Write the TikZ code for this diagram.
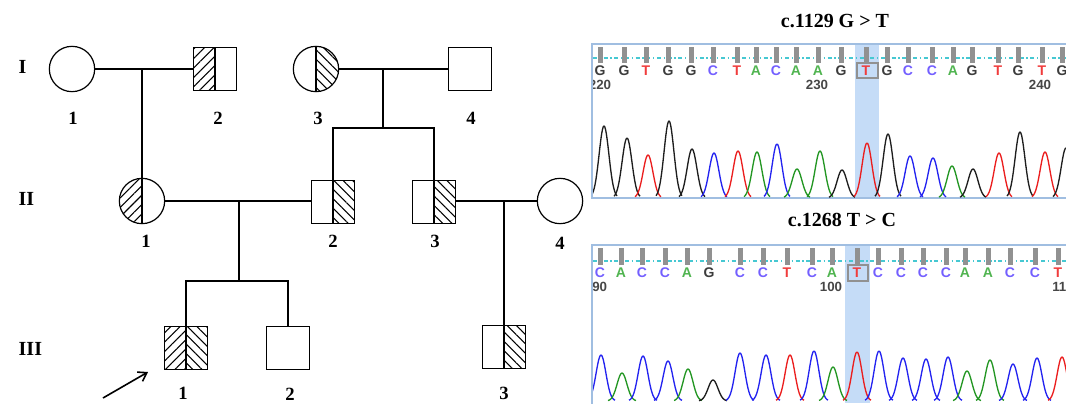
\documentclass[tikz,border=0pt]{standalone}
\usepackage{fontspec}
\setmainfont{Liberation Serif}
\setsansfont{Liberation Sans}
\usetikzlibrary{arrows.meta,patterns.meta}
\definecolor{seqband}{RGB}{197,220,247}
\definecolor{seqframe}{RGB}{160,190,225}
\definecolor{seqtick}{RGB}{145,145,145}
\definecolor{seqdash}{RGB}{70,200,210}
\definecolor{seqnum}{RGB}{70,70,70}
\definecolor{baseG}{RGB}{60,60,60}
\definecolor{baseT}{RGB}{240,60,60}
\definecolor{baseC}{RGB}{115,95,255}
\definecolor{baseA}{RGB}{80,180,80}
\definecolor{traceG}{RGB}{30,30,30}
\definecolor{traceT}{RGB}{235,30,30}
\definecolor{traceC}{RGB}{35,35,240}
\definecolor{traceA}{RGB}{35,150,35}

\begin{document}
\begin{tikzpicture}[x=0.75pt, y=-0.75pt,
    female/.style={circle, draw, line width=0.9pt, minimum size=34pt, inner sep=0pt},
    male/.style={rectangle, draw, line width=0.9pt, minimum size=32pt, inner sep=0pt},
    lefthalf/.style={path picture={
        \fill[pattern={Lines[angle=45, distance=5pt, line width=0.8pt]}]
            (path picture bounding box.south west) rectangle (path picture bounding box.north);
        \draw[line width=0.9pt] (path picture bounding box.north) -- (path picture bounding box.south);}},
    righthalf/.style={path picture={
        \fill[pattern={Lines[angle=-45, distance=5pt, line width=0.8pt]}]
            (path picture bounding box.south) rectangle (path picture bounding box.north east);
        \draw[line width=0.9pt] (path picture bounding box.north) -- (path picture bounding box.south);}},
    bothhalves/.style={path picture={
        \fill[pattern={Lines[angle=45, distance=5pt, line width=0.8pt]}]
            (path picture bounding box.south west) rectangle (path picture bounding box.north);
        \fill[pattern={Lines[angle=-45, distance=5pt, line width=0.8pt]}]
            (path picture bounding box.south) rectangle (path picture bounding box.north east);
        \draw[line width=0.9pt] (path picture bounding box.north) -- (path picture bounding box.south);}},
    link/.style={line width=0.9pt},
    gen/.style={font=\bfseries\fontsize{15}{15}\selectfont, anchor=west},
    num/.style={font=\bfseries\fontsize{14}{14}\selectfont},
    title/.style={font=\bfseries\fontsize{15}{15}\selectfont},
    base/.style={font=\sffamily\bfseries\fontsize{10.5}{10.5}\selectfont, inner sep=0pt},
    seqpos/.style={font=\sffamily\bfseries\fontsize{10}{10}\selectfont, text=seqnum, inner sep=0pt},
    trace/.style={line width=1pt, line join=round}
]
\useasboundingbox (0,0) rectangle (1066,403);

% generations
\node[gen] (gI) at (14,67) {I};
\node[gen] (gII) at (14,199) {II};
\node[gen] (gIII) at (14,349) {III};

% generation I
\node[female] (i1) at (72,69) {};
\node[male, lefthalf] (i2) at (215,69) {};
\node[female, righthalf] (i3) at (316,69) {};
\node[male] (i4) at (470,69) {};
\node[num] at (73,118) {1};
\node[num] at (218,118) {2};
\node[num] at (318,118) {3};
\node[num] at (471,118) {4};

% generation II
\node[female, lefthalf] (ii1) at (142,201) {};
\node[male, righthalf] (ii2) at (333,202) {};
\node[male, righthalf] (ii3) at (434,202) {};
\node[female] (ii4) at (560,201) {};
\node[num] at (146,241) {1};
\node[num] at (333,241) {2};
\node[num] at (435,241) {3};
\node[num] at (560,243) {4};

% generation III
\node[male, bothhalves] (iii1) at (186,348) {};
\node[male] (iii2) at (288,348) {};
\node[male, righthalf] (iii3) at (504,347) {};
\node[num] at (183,393) {1};
\node[num] at (290,394) {2};
\node[num] at (504,393) {3};

% couples and sibships
\coordinate (m1) at (142,69);
\coordinate (m2) at (383,69);
\coordinate (s2) at (383,128);
\coordinate (m3) at (239,201);
\coordinate (s3) at (239,281);
\coordinate (m4) at (504,201);
\draw[link] (i1) -- (i2);
\draw[link] (i3) -- (i4);
\draw[link] (m1) -- (ii1.north);
\draw[link] (m2) -- (s2);
\draw[link] (ii2.north) |- (s2) -| (ii3.north);
\draw[link] (ii1.east) -- (ii2.west |- ii1.east);
\draw[link] (ii3.east |- ii4.west) -- (ii4.west);
\draw[link] (m3) -- (s3);
\draw[link] (iii1.north) |- (s3) -| (iii2.north);
\draw[link] (m4) -- (iii3.north);

% proband
\coordinate (ptail) at (103,398);
\coordinate (phead) at (148,372);
\draw[link, line width=1.2pt, -{Straight Barb[length=6pt, width=8pt]}] (ptail) -- (phead);

% sequence c.1129
\node[title] (t1) at (835,21) {c.1129 G > T};
\fill[seqband] (855,44) rectangle (879,198);
\draw[seqframe, line width=1pt] (1070,44) -- (592,44) -- (592,198) -- (1070,198);
\draw[seqdash, line width=0.8pt, dash pattern=on 3pt off 2pt on 1pt off 2pt] (593,58) -- (1066,58);
\begin{scope}
\clip (593,44) rectangle (1066,197.5);
\foreach \px/\bs in {600/G,624/G,646/T,668/G,691/G,713/C,737/T,756/A,776/C,796/A,818/A,
    841/G,866/T,887/G,908/C,932/C,953/A,972/G,998/T,1018/G,1042/T,1062/G} {
  \fill[seqtick] (\px-2.5,47) rectangle (\px+2.5,63);
  \node[base, text=base\bs] (a\px) at (\px,71) {\bs};
}
\draw[seqtick, line width=1pt] (857,63) rectangle (878,78);
\node[seqpos] (n220) at (600,85) {220};
\node[seqpos] (n230) at (817,85) {230};
\node[seqpos] (n240) at (1040,85) {240};
\foreach \px/\ph/\bs in {604/126/G,627/138/G,648/155/T,669/121/G,692/149/G,714/153/C,738/151/T,
    757/152/A,777/144/C,797/169/A,820/151/A,842/170/G,867/143/T,888/134/G,910/156/C,933/158/C,
    952/166/A,973/169/G,999/153/T,1020/132/G,1045/152/T,1066/148/G}
  \draw[trace, trace\bs] plot[domain=-13:13, samples=33] ({\px+\x}, {198-(198-\ph)*exp(-(\x)*(\x)/48)});
\end{scope}

% sequence c.1268
\node[title] (t2) at (842,220) {c.1268 T > C};
\fill[seqband] (845,245) rectangle (870,403);
\draw[seqframe, line width=1pt] (1070,245) -- (592,245) -- (592,405);
\draw[seqdash, line width=0.8pt, dash pattern=on 3pt off 2pt on 1pt off 2pt] (593,261) -- (1066,261);
\begin{scope}
\clip (593,245) rectangle (1066,403);
\foreach \px/\bs in {600/C,621/A,642/C,665/C,687/A,709/G,740/C,763/C,787/T,812/C,832/A,
    857/T,878/C,901/C,923/C,946/C,965/A,988/A,1010/C,1035/C,1058/T} {
  \fill[seqtick] (\px-2.5,248) rectangle (\px+2.5,265);
  \node[base, text=base\bs] (b\px) at (\px,273) {\bs};
}
\draw[seqtick, line width=1pt] (848,265) rectangle (868,281);
\node[seqpos] (n190) at (596,287) {190};
\node[seqpos] (n100) at (831,287) {100};
\node[seqpos] (n110) at (1063,287) {110};
\foreach \px/\ph/\bs in {601/355/C,622/373/A,643/356/C,668/361/C,688/369/A,713/380/G,740/353/C,
    766/355/C,790/355/T,814/351/C,833/367/A,857/352/T,879/351/C,903/358/C,926/359/C,948/357/C,
    967/371/A,990/360/A,1013/364/C,1037/358/C,1062/357/T}
  \draw[trace, trace\bs] plot[domain=-14:14, samples=33] ({\px+\x}, {401-(401-\ph)*exp(-(\x)*(\x)/48)});
\end{scope}
\end{tikzpicture}
\end{document}
